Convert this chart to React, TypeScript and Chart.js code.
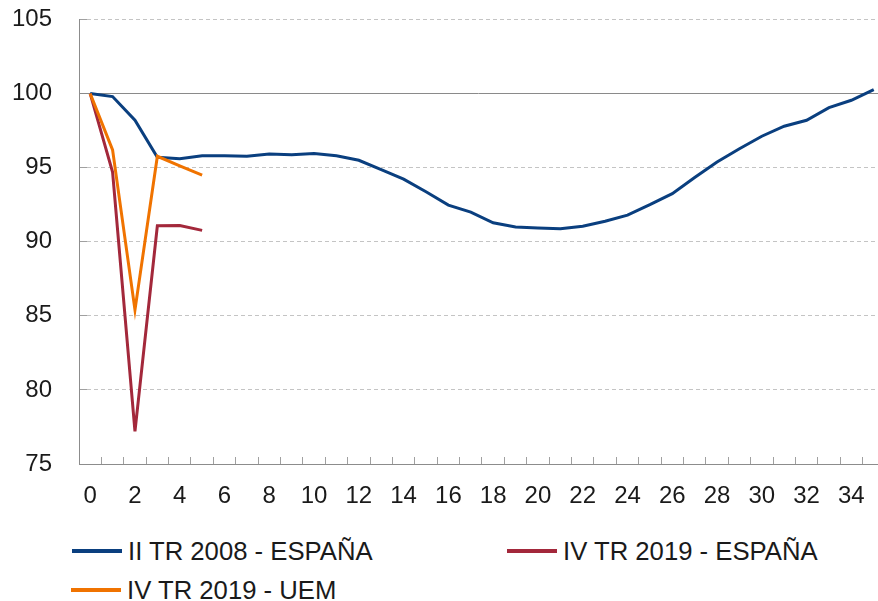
import React, { useEffect, useRef } from "react";
import { Chart, registerables } from "chart.js";

Chart.register(...registerables);

// Quarters since the start of each crisis
const periods = [0, 1, 2, 3, 4, 5, 6, 7, 8, 9, 10, 11, 12, 13, 14, 15, 16, 17, 18, 19, 20, 21, 22, 23, 24, 25, 26, 27, 28, 29, 30, 31, 32, 33, 34, 35];

const seriesNames = ["II TR 2008 - ESPAÑA", "IV TR 2019 - ESPAÑA", "IV TR 2019 - UEM"];
const seriesColors = ["#0a3f7f", "#a3283b", "#f07300"];

const espana2008 = [
  100, 99.8, 98.2, 95.7, 95.6, 95.8, 95.8, 95.77, 95.92, 95.88, 95.95, 95.8,
  95.5, 94.87, 94.23, 93.37, 92.47, 92.0, 91.28, 90.99, 90.93, 90.88, 91.05, 91.38,
  91.8, 92.5, 93.25, 94.33, 95.38, 96.28, 97.12, 97.8, 98.2, 99.05, 99.55, 100.27,
];
const espana2019 = [100, 94.7, 77.2, 91.08, 91.1, 90.77];
const uem2019 = [100, 96.2, 85.4, 95.77, 95.12, 94.5];

const yTicks = [75, 80, 85, 90, 95, 100, 105];
const xLabelTicks = [0, 2, 4, 6, 8, 10, 12, 14, 16, 18, 20, 22, 24, 26, 28, 30, 32, 34];
const referenceLevel = [100];

const FONT = "'Liberation Sans', Arial, Helvetica, sans-serif";

const noPad = (s: any) => {
  s.paddingTop = 0;
  s.paddingBottom = 0;
  s.paddingLeft = 0;
  s.paddingRight = 0;
};

export default function App() {
  const canvasRef = useRef<HTMLCanvasElement | null>(null);

  useEffect(() => {
    const canvas = canvasRef.current;
    if (!canvas) return;
    const series = [espana2008, espana2019, uem2019];
    const chart = new Chart(canvas, {
      type: "line",
      data: {
        datasets: series.map((vals, s) => ({
          label: seriesNames[s],
          data: vals.map((v, i) => ({ x: periods[i], y: v })),
          borderColor: seriesColors[s],
          backgroundColor: seriesColors[s],
          borderWidth: 3,
          pointRadius: 0,
          tension: 0,
          fill: false,
          order: 2 - s,
        })),
      },
      options: {
        animation: false,
        responsive: false,
        devicePixelRatio: 1,
        layout: { padding: { top: 19.5, right: 0, bottom: 0, left: 0 } },
        plugins: { legend: { display: false }, tooltip: { enabled: false } },
        scales: {
          x: {
            type: "linear",
            min: -0.5,
            max: 35.19,
            afterBuildTicks: (s: any) => {
              const t: any[] = [];
              for (let k = 0; k <= 35; k++) {
                t.push({ value: k - 0.5 });
                t.push({ value: k });
              }
              s.ticks = t;
            },
            afterFit: (s: any) => {
              s.height = 66;
              noPad(s);
            },
            grid: {
              drawOnChartArea: false,
              drawTicks: true,
              tickLength: -7,
              tickWidth: 1,
              tickColor: (ctx: any) =>
                ctx.tick && Number.isInteger(ctx.tick.value) ? "rgba(0,0,0,0)" : "#a0a0a0",
            },
            border: { color: "#8c8c8c", width: 1 },
            ticks: {
              autoSkip: false,
              maxRotation: 0,
              minRotation: 0,
              padding: 25,
              color: "#1a1a1a",
              font: { size: 24, family: FONT },
              callback: (v: any) => (xLabelTicks.includes(Number(v)) ? String(v) : ""),
            },
          },
          y: {
            min: 75,
            max: 105,
            afterBuildTicks: (s: any) => {
              s.ticks = yTicks.map((v) => ({ value: v }));
            },
            afterFit: (s: any) => {
              s.width = 79;
              noPad(s);
            },
            grid: {
              color: "#c4c4c4",
              lineWidth: 1,
              drawTicks: true,
              tickLength: -8,
              tickColor: "#a0a0a0",
            },
            border: { color: "#8c8c8c", width: 1, dash: [4, 3] },
            ticks: {
              padding: 35,
              color: "#1a1a1a",
              font: { size: 24, family: FONT },
              callback: (v: any) => String(v),
            },
          },
          yRef: {
            position: "left",
            min: 75,
            max: 105,
            afterBuildTicks: (s: any) => {
              s.ticks = referenceLevel.map((v) => ({ value: v }));
            },
            afterFit: (s: any) => {
              s.width = 0;
              noPad(s);
            },
            ticks: { display: false },
            grid: { color: "#8a8a8a", lineWidth: 1, drawTicks: false },
            border: { display: false },
          },
        },
      },
    } as any);
    return () => chart.destroy();
  }, []);

  const legendPos = [
    { left: 72, top: 536 },
    { left: 507, top: 536 },
    { left: 71, top: 575 },
  ];

  return (
    <div
      style={{
        position: "fixed",
        left: 0,
        top: 0,
        width: 878,
        height: 601,
        background: "#ffffff",
        overflow: "hidden",
      }}
    >
      <canvas ref={canvasRef} width={878} height={530} style={{ display: "block" }} />
      {seriesNames.map((name, i) => (
        <div
          key={name}
          style={{
            position: "absolute",
            left: legendPos[i].left,
            top: legendPos[i].top,
            height: 30,
            display: "flex",
            alignItems: "center",
            fontFamily: FONT,
            fontSize: 25.7,
            color: "#1a1a1a",
            whiteSpace: "nowrap",
          }}
        >
          <span
            style={{
              display: "inline-block",
              width: 50,
              height: 3.5,
              background: seriesColors[i],
              marginRight: 6,
            }}
          />
          <span>{name}</span>
        </div>
      ))}
    </div>
  );
}
